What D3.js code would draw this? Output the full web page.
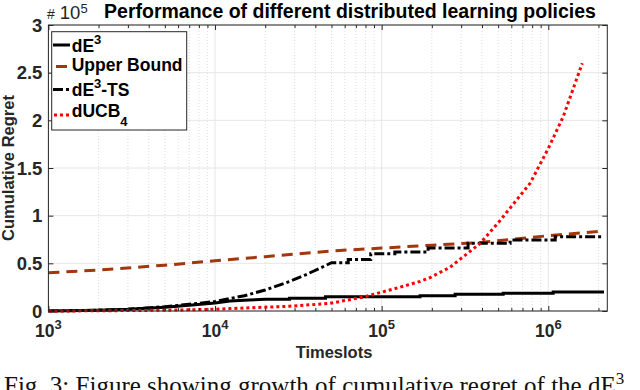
<!DOCTYPE html>
<html>
<head>
<meta charset="utf-8">
<script src="https://cdn.jsdelivr.net/npm/d3@7"></script>
<style>
  body { margin: 0; background: #fff; }
  svg { display: block; }
</style>
</head>
<body>
<div id="chart"></div>
<script>
// regret values are in units of 1e5 (axis multiplier "x 10^5")
const seriesNames = ['dE3', 'Upper Bound', 'dE3-TS', 'dUCB4']

const dE3T = [1e3, 2e3, 3e3, 5e3, 7e3, 1e4, 1.23e4, 1.6e4, 2e4, 2.8e4, 2.8e4, 4.6e4, 4.6e4, 1.7e5, 1.7e5, 2.76e5, 2.76e5, 5.36e5, 5.36e5, 1.07e6, 1.07e6, 2.16e6]
const dE3R = [0, 0.008, 0.018, 0.04, 0.06, 0.085, 0.105, 0.115, 0.123, 0.123, 0.135, 0.135, 0.15, 0.15, 0.16, 0.16, 0.175, 0.175, 0.187, 0.187, 0.2, 0.2]

const upperT = [1e3, 2e3, 5e3, 1e4, 2e4, 5e4, 1e5, 2e5, 4e5, 1e6, 2.16e6]
const upperR = [0.40, 0.43, 0.48, 0.527, 0.57, 0.63, 0.66, 0.69, 0.72, 0.79, 0.84]

const tsT = [1e3, 2e3, 3e3, 5e3, 7e3, 1e4, 1.5e4, 2e4, 2.8e4, 3.5e4, 4.27e4, 5e4, 6.3e4, 6.3e4, 8.6e4, 8.6e4, 1.2e5, 1.2e5, 1.9e5, 1.9e5, 3.3e5, 3.3e5, 5.9e5, 5.9e5, 1.1e6, 1.1e6, 2.16e6]
const tsR = [0, 0.008, 0.018, 0.045, 0.07, 0.1, 0.16, 0.22, 0.31, 0.38, 0.45, 0.506, 0.506, 0.54, 0.54, 0.60, 0.60, 0.62, 0.62, 0.66, 0.66, 0.71, 0.71, 0.745, 0.745, 0.78, 0.78]

const ucbT = [1e3, 2e3, 5e3, 1e4, 1.23e4, 2.8e4, 4.9e4, 7.95e4, 1.29e5, 1.7e5, 1.95e5, 2.58e5, 3.9e5, 5.14e5, 7.78e5, 1e6, 1.23e6, 1.6e6]
const ucbR = [0, 0.002, 0.008, 0.018, 0.025, 0.05, 0.08, 0.15, 0.25, 0.31, 0.35, 0.46, 0.71, 0.95, 1.34, 1.705, 2.04, 2.6]

const xDecades = [1e3, 1e4, 1e5, 1e6]
const xExponents = ['3', '4', '5', '6']
const yTicks = [0, 0.5, 1, 1.5, 2, 2.5, 3]
const yTickLabels = ['0', '0.5', '1', '1.5', '2', '2.5', '3']

;(function () {
  const W = 640, H = 390
  const margin = { top: 25, right: 32.7, bottom: 79, left: 48.4 }
  const width = W - margin.left - margin.right
  const height = H - margin.top - margin.bottom
  const sans = '"Liberation Sans", Arial, Helvetica, sans-serif'

  const svg = d3.select('#chart').append('svg')
      .attr('width', W)
      .attr('height', H)
      .style('font-family', sans)

  const g = svg.append('g')
      .attr('transform', 'translate(' + margin.left + ',' + margin.top + ')')

  const x = d3.scaleLog().domain([1e3, 2.26e6]).range([0, width])
  const y = d3.scaleLinear().domain([0, 3]).range([height, 0])

  // minor positions 2..9 in each decade
  const minorTicks = []
  xDecades.forEach(d => {
    for (let m = 2; m <= 9; m++) {
      if (d * m <= 2.26e6) minorTicks.push(d * m)
    }
  })

  // grid
  g.append('g').selectAll('line')
    .data(minorTicks).enter().append('line')
      .attr('x1', d => x(d)).attr('x2', d => x(d))
      .attr('y1', 0).attr('y2', height)
      .attr('stroke', '#d6d6d6')
      .attr('stroke-width', 0.8)
      .attr('stroke-dasharray', '1,2')

  g.append('g').selectAll('line')
    .data(xDecades).enter().append('line')
      .attr('x1', d => x(d)).attr('x2', d => x(d))
      .attr('y1', 0).attr('y2', height)
      .attr('stroke', '#e6e6e6')

  g.append('g').selectAll('line')
    .data(yTicks).enter().append('line')
      .attr('x1', 0).attr('x2', width)
      .attr('y1', d => y(d)).attr('y2', d => y(d))
      .attr('stroke', '#e6e6e6')

  // lines
  const line = d3.line()
    .x(d => x(d[0]))
    .y(d => y(d[1]))

  const zipped = (ts, rs) => ts.map((t, i) => [t, rs[i]])

  const styles = [
    { data: zipped(dE3T, dE3R), color: '#000', dash: null, w: 3 },
    { data: zipped(upperT, upperR), color: '#a3360c', dash: '11,7', w: 3 },
    { data: zipped(tsT, tsR), color: '#000', dash: '10,3,3,3', w: 3 },
    { data: zipped(ucbT, ucbR), color: '#ff0000', dash: '3,3', w: 3 }
  ]

  styles.forEach(s => {
    g.append('path')
      .datum(s.data)
      .attr('fill', 'none')
      .attr('stroke', s.color)
      .attr('stroke-width', s.w)
      .attr('stroke-dasharray', s.dash)
      .attr('d', line)
  })

  // box
  g.append('rect')
    .attr('width', width).attr('height', height)
    .attr('fill', 'none')
    .attr('stroke', '#262626')
    .attr('stroke-width', 1)

  // ticks, inward, on all four sides
  const tickColor = '#262626'
  const xAxisB = d3.axisBottom(x).tickValues(xDecades).tickSize(-5).tickFormat('')
  const xAxisBm = d3.axisBottom(x).tickValues(minorTicks).tickSize(-3).tickFormat('')
  const xAxisT = d3.axisTop(x).tickValues(xDecades).tickSize(-5).tickFormat('')
  const xAxisTm = d3.axisTop(x).tickValues(minorTicks).tickSize(-3).tickFormat('')
  const yAxisL = d3.axisLeft(y).tickValues(yTicks).tickSize(-5).tickFormat('')
  const yAxisR = d3.axisRight(y).tickValues(yTicks).tickSize(-5).tickFormat('')

  ;[[xAxisB, 'translate(0,' + height + ')'], [xAxisBm, 'translate(0,' + height + ')'],
   [xAxisT, null], [xAxisTm, null],
   [yAxisL, null], [yAxisR, 'translate(' + width + ',0)']].forEach(a => {
    const ax = g.append('g').attr('transform', a[1]).call(a[0])
    ax.select('.domain').remove()
    ax.selectAll('line').attr('stroke', tickColor)
  })

  // y tick labels
  g.append('g').selectAll('text')
    .data(yTicks).enter().append('text')
      .attr('x', -6)
      .attr('y', d => y(d))
      .attr('dy', '0.36em')
      .attr('text-anchor', 'end')
      .attr('font-size', 18.5)
      .attr('font-weight', 'bold')
      .attr('fill', '#262626')
      .text((d, i) => yTickLabels[i])

  // x tick labels 10^k
  const xl = g.append('g').selectAll('text')
    .data(xDecades).enter().append('text')
      .attr('x', d => x(d))
      .attr('y', height + 26)
      .attr('text-anchor', 'middle')
      .attr('font-size', 17.5)
      .attr('font-weight', 'bold')
      .attr('fill', '#262626')
  xl.append('tspan').text('10')
  xl.append('tspan')
      .attr('font-size', 13)
      .attr('dy', -8)
      .text((d, i) => xExponents[i])

  // exponent label top left
  const ex = svg.append('text')
      .attr('x', 47)
      .attr('y', 19)
      .attr('fill', '#262626')
  ex.append('tspan').attr('font-size', 14).text('#')
  ex.append('tspan').attr('font-size', 18.5).attr('dx', 5).text('10')
  ex.append('tspan').attr('font-size', 13).attr('dy', -6.5).text('5')

  // title
  svg.append('text')
      .attr('x', 350)
      .attr('y', 18)
      .attr('text-anchor', 'middle')
      .attr('font-size', 19.5)
      .attr('font-weight', 'bold')
      .text('Performance of different distributed learning policies')

  // axis labels
  svg.append('text')
      .attr('x', 334)
      .attr('y', 358)
      .attr('text-anchor', 'middle')
      .attr('font-size', 16.5)
      .attr('font-weight', 'bold')
      .attr('fill', '#262626')
      .text('Timeslots')

  svg.append('text')
      .attr('transform', 'translate(14,' + (margin.top + height / 2) + ') rotate(-90)')
      .attr('text-anchor', 'middle')
      .attr('font-size', 16.5)
      .attr('font-weight', 'bold')
      .attr('fill', '#262626')
      .text('Cumulative Regret')

  // legend
  const lg = svg.append('g')
  lg.append('rect')
      .attr('x', 51.7).attr('y', 31.7)
      .attr('width', 135).attr('height', 98.3)
      .attr('fill', '#fff')
      .attr('stroke', '#262626')
      .attr('stroke-width', 1)

  const legendRows = [
    { base: 52, mid: 45, x1: 53, x2: 70, sup: '3', sub: null, label: 'dE', tail: '' },
    { base: 71, mid: 66.5, x1: 56, x2: 67, sup: null, sub: null, label: 'Upper Bound', tail: '' },
    { base: 96, mid: 89.5, x1: 53, x2: 70, sup: '3', sub: null, label: 'dE', tail: '-TS' },
    { base: 117, mid: 115, x1: 54, x2: 69, sup: null, sub: '4', label: 'dUCB', tail: '' }
  ]

  legendRows.forEach((r, i) => {
    const s = styles[i]
    lg.append('line')
      .attr('x1', r.x1).attr('x2', r.x2)
      .attr('y1', r.mid).attr('y2', r.mid)
      .attr('stroke', s.color)
      .attr('stroke-width', s.w)
      .attr('stroke-dasharray', s.dash)
    const t = lg.append('text')
      .attr('x', 71.7)
      .attr('y', r.base)
      .attr('font-size', 17.5)
      .attr('font-weight', 'bold')
    t.append('tspan').text(r.label)
    if (r.sup) t.append('tspan').attr('font-size', 13).attr('dy', -8).text(r.sup)
    if (r.sub) t.append('tspan').attr('font-size', 13).attr('dy', 9).text(r.sub)
    if (r.tail) t.append('tspan').attr('dy', 8).text(r.tail)
  })

  // caption (cut off at the bottom of the picture, as in the source figure)
  const cap = svg.append('text')
      .attr('x', 4)
      .attr('y', 394)
      .style('font-family', '"Liberation Serif", "Times New Roman", serif')
      .attr('font-size', 25)
      .attr('fill', '#111')
  cap.append('tspan').text('Fig. 3: Figure showing growth of cumulative regret of the dE')
  cap.append('tspan').attr('font-size', 17).attr('dy', -10).text('3')
})()
</script>
</body>
</html>
